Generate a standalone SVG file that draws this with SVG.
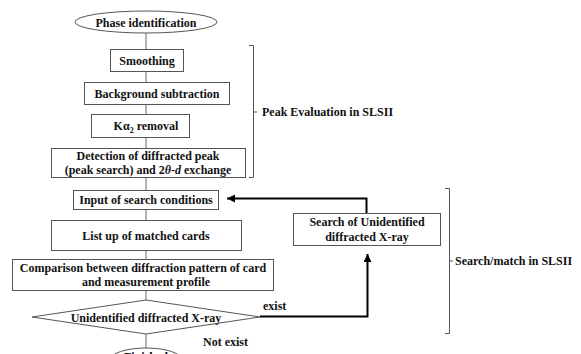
<svg xmlns="http://www.w3.org/2000/svg" width="581" height="354" viewBox="0 0 581 354">
<style>
.box{fill:#fff;stroke:#555;stroke-width:1}
.t{font-family:'Liberation Serif','DejaVu Serif',serif;font-weight:bold;font-size:12px;fill:#111}
.c{text-anchor:middle}
.flow{stroke:#666;stroke-width:1;fill:none}
.loop{stroke:#000;stroke-width:2;fill:none}
.br{stroke:#555;stroke-width:1;fill:none}
</style>
<defs>
<marker id="ah" markerWidth="10" markerHeight="10" refX="8" refY="4" orient="auto" markerUnits="userSpaceOnUse">
<path d="M0,0 L8,4 L0,8 Z" fill="#000"/>
</marker>
</defs>
<rect width="581" height="354" fill="#fff"/>
<g id="connectors">
<path class="flow" d="M146,33V49 M146,71V82 M146,104V114 M146,137V148 M146,177V190 M146,209V220 M146,250V259 M146,290V300 M146,334V348"/>
<path class="loop" d="M260,316.5H367.5V254" marker-end="url(#ah)"/>
<path class="loop" d="M366.5,213V198.5H227" marker-end="url(#ah)"/>
<path class="br" d="M249,45.5H253.5V177.5H249 M253.5,112H257"/>
<path class="br" d="M445,188.5H449.5V333.5H445 M449.5,261H453"/>
</g>
<g id="n-phase"><ellipse class="box" cx="146" cy="22" rx="71" ry="11"/><text class="t c" x="146" y="26.5">Phase identification</text></g>
<g id="n-smooth"><rect class="box" x="110.5" y="49.5" width="73" height="22"/><text class="t c" x="147" y="64.5">Smoothing</text></g>
<g id="n-bg"><rect class="box" x="84.5" y="82.5" width="145" height="22"/><text class="t c" x="157" y="97.5">Background subtraction</text></g>
<g id="n-ka"><rect class="box" x="91.5" y="114.5" width="98" height="23"/><text class="t c" x="146" y="130">Kα<tspan font-size="8" dy="3">2</tspan><tspan dy="-3"> removal</tspan></text></g>
<g id="n-detect"><rect class="box" x="51.5" y="148.5" width="194" height="29"/><text class="t c" x="148" y="160">Detection of diffracted peak</text><text class="t c" x="148" y="174">(peak search) and 2<tspan font-style="italic">θ</tspan>-<tspan font-style="italic">d</tspan> exchange</text></g>
<g id="n-input"><rect class="box" x="73.5" y="190.5" width="145" height="19"/><text class="t c" x="146" y="204">Input of search conditions</text></g>
<g id="n-list"><rect class="box" x="51.5" y="220.5" width="190" height="30"/><text class="t c" x="146" y="239.5">List up of matched cards</text></g>
<g id="n-compare"><rect class="box" x="12.5" y="259.5" width="261" height="31"/><text class="t c" x="143" y="271.5">Comparison between diffraction pattern of card</text><text class="t c" x="146" y="285.5">and measurement profile</text></g>
<g id="n-decision"><polygon class="box" points="146,300 260,317 146,334 32,317"/><text class="t c" x="146" y="321.5">Unidentified diffracted X-ray</text></g>
<g id="n-finished"><ellipse class="box" cx="146" cy="360" rx="36" ry="12"/><text class="t c" x="146" y="361">Finished</text></g>
<g id="n-search"><rect class="box" x="293.5" y="213.5" width="147" height="32"/><text class="t c" x="367" y="226">Search of Unidentified</text><text class="t c" x="367" y="240.5">diffracted X-ray</text></g>
<g id="labels">
<text class="t" x="262" y="116">Peak Evaluation in SLSII</text>
<text class="t" x="455" y="265">Search/match in SLSII</text>
<text class="t" x="263" y="310">exist</text>
<text class="t" x="203" y="346">Not exist</text>
</g>
</svg>
